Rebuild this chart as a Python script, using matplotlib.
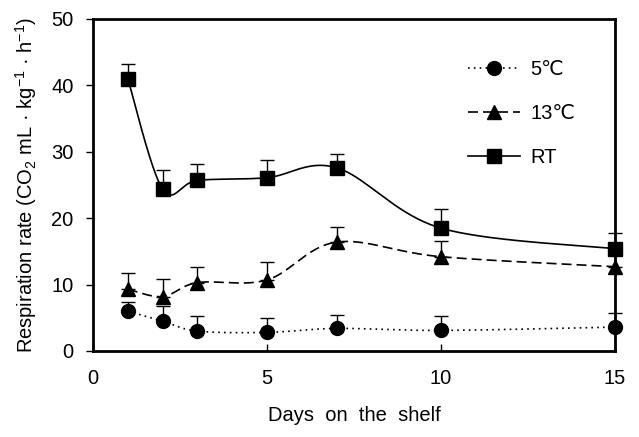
import numpy as np
import matplotlib
matplotlib.use("Agg")
import matplotlib.pyplot as plt
from matplotlib.lines import Line2D

plt.rcParams['font.family'] = ['Liberation Sans', 'DejaVu Sans']
plt.rcParams['mathtext.fontset'] = 'custom'
plt.rcParams['mathtext.rm'] = 'Liberation Sans'
plt.rcParams['mathtext.it'] = 'Liberation Sans'

days = [1, 2, 3, 5, 7, 10, 15]
rate_5c = [6.0, 4.5, 3.0, 2.8, 3.4, 3.1, 3.6]
err_5c = [1.4, 2.3, 2.2, 2.1, 2.0, 2.2, 2.1]
rate_13c = [9.3, 8.2, 10.3, 10.7, 16.4, 14.2, 12.7]
err_13c = [2.4, 2.6, 2.4, 2.7, 2.3, 2.3, 2.3]
rate_rt = [41.0, 24.4, 25.7, 26.1, 27.6, 18.5, 15.4]
err_rt = [2.2, 2.8, 2.5, 2.7, 2.0, 2.9, 2.4]
labels = ['5\u2103', '13\u2103', 'RT']


def smooth(x, y, n=40):
    x = np.asarray(x, float)
    y = np.asarray(y, float)
    xs, ys = [], []
    m = len(x)
    for i in range(m - 1):
        p0 = np.array([x[max(i - 1, 0)], y[max(i - 1, 0)]])
        p1 = np.array([x[i], y[i]])
        p2 = np.array([x[i + 1], y[i + 1]])
        p3 = np.array([x[min(i + 2, m - 1)], y[min(i + 2, m - 1)]])
        c1 = p1 + (p2 - p0) / 6.0
        c2 = p2 - (p3 - p1) / 6.0
        t = np.linspace(0, 1, n)[:, None]
        pts = ((1 - t) ** 3) * p1 + 3 * ((1 - t) ** 2) * t * c1 + 3 * (1 - t) * t ** 2 * c2 + t ** 3 * p2
        xs.extend(pts[:, 0])
        ys.extend(pts[:, 1])
    return np.array(xs), np.array(ys)


fs = 14.5
fig = plt.figure(figsize=(6.39, 4.37), dpi=100)
ax = fig.add_axes([93 / 639, 1 - 351 / 437, (615 - 93) / 639, (351 - 19) / 437])

series = [
    (rate_5c, err_5c, 'o', (0, (1, 2.5)), 10),
    (rate_13c, err_13c, '^', (0, (6, 3)), 10),
    (rate_rt, err_rt, 's', '-', 10),
]
handles = []
for (vals, errs, mk, ls, ms), lab in zip(series, labels):
    sx, sy = smooth(days, vals)
    ax.plot(sx, sy, color='black', lw=1.2, linestyle=ls, clip_on=False, zorder=2)
    ax.errorbar(days, vals, yerr=[np.zeros(len(errs)), errs], fmt='none', ecolor='black',
                elinewidth=1.0, capsize=5, capthick=1.0, clip_on=False, zorder=3)
    ax.plot(days, vals, linestyle='none', marker=mk, markersize=ms, color='black',
            clip_on=False, zorder=4)
    handles.append(Line2D([0], [0], color='black', lw=1.2, linestyle=ls, marker=mk,
                          markersize=ms))

leg = ax.legend(handles, labels, loc='center left', bbox_to_anchor=(0.718, 0.715),
                frameon=False, fontsize=fs, handlelength=2.6, labelspacing=1.25,
                handletextpad=0.5, borderaxespad=0, borderpad=0)

ax.set_xlim(0, 15)
ax.set_ylim(0, 50)
ax.set_xticks([0, 5, 10, 15])
ax.set_yticks([0, 10, 20, 30, 40, 50])
ax.tick_params(axis='x', direction='in', length=5, width=1, labelsize=fs, pad=13, colors='black')
ax.tick_params(axis='y', direction='out', length=5, width=1, labelsize=fs, pad=9)
for s in ax.spines.values():
    s.set_linewidth(2)

ax.set_xlabel('Days  on  the  shelf', fontsize=fs, labelpad=13)
ax.set_ylabel('Respiration rate (CO$_2$ mL \u00b7 kg$^{-1}$ \u00b7 h$^{-1}$)', fontsize=fs, labelpad=9)

fig.savefig('out.png', dpi=100)
